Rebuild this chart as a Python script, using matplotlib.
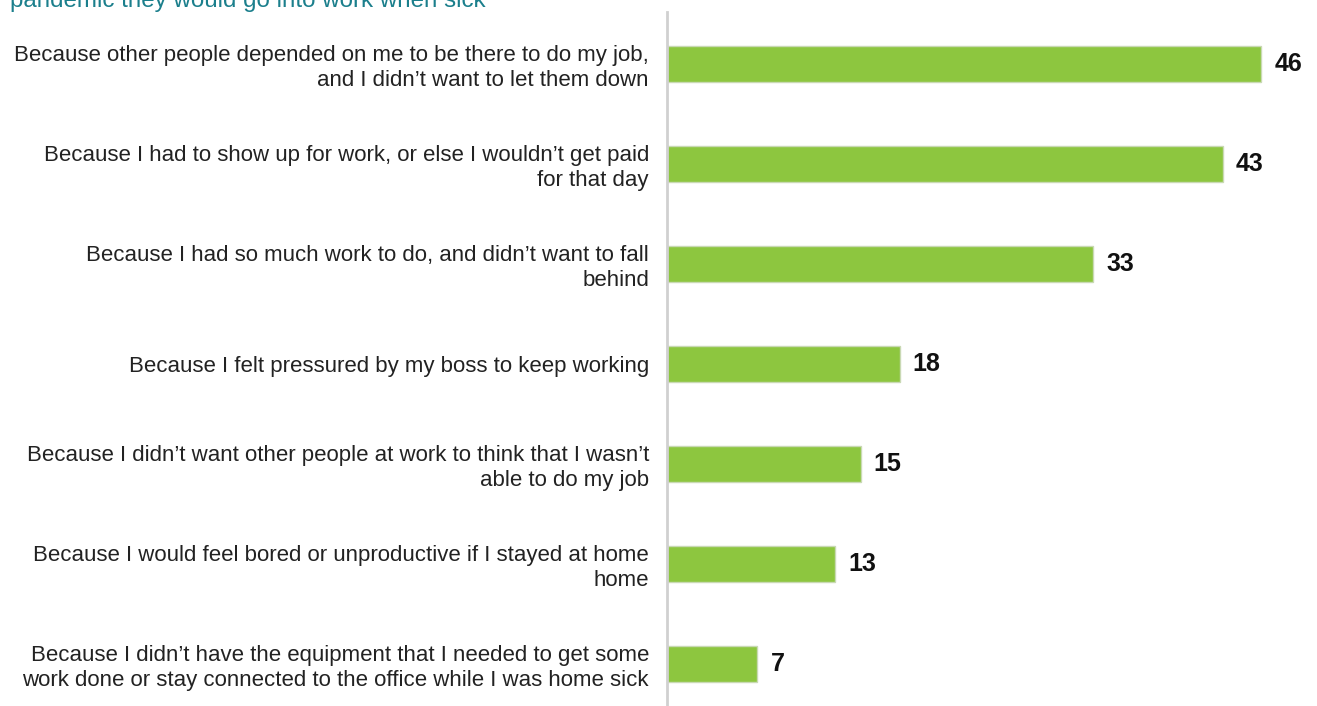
import matplotlib.pyplot as plt

# survey answers, top to bottom
reasons = [
    "Because other people depended on me to be there to do my job,\nand I didn\u2019t want to let them down",
    "Because I had to show up for work, or else I wouldn\u2019t get paid\nfor that day",
    "Because I had so much work to do, and didn\u2019t want to fall\nbehind",
    "Because I felt pressured by my boss to keep working",
    "Because I didn\u2019t want other people at work to think that I wasn\u2019t\nable to do my job",
    "Because I would feel bored or unproductive if I stayed at home\nhome",
    "Because I didn\u2019t have the equipment that I needed to get some\nwork done or stay connected to the office while I was home sick",
]
percent = [46, 43, 33, 18, 15, 13, 7]
title = "pandemic they would go into work when sick"

plt.rcParams['font.family'] = ['Liberation Sans', 'DejaVu Sans']

fig = plt.figure(figsize=(13.17, 7.06), dpi=100)
ax = fig.add_axes([667/1317, 0, 650/1317, 694/706])

pos = list(range(len(reasons)))
ax.barh(pos, percent, height=0.36, color='#8dc63f', edgecolor='#c9d9b4', linewidth=1)

for p, v in zip(pos, percent):
    ax.text(v + 1.0, p, str(v), va='center', ha='left', fontsize=18,
            fontweight='bold', color='#111111')

ax.set_xlim(0, 50.3)
ax.set_ylim(6.42, -0.52)
ax.set_yticks(pos)
ax.set_yticklabels(reasons, fontsize=16, linespacing=1.2, color='#222222')
ax.tick_params(axis='y', length=0, pad=13)
ax.set_xticks([])
for s in ['top', 'right', 'bottom']:
    ax.spines[s].set_visible(False)
ax.spines['left'].set_color('#d0d0d0')
ax.spines['left'].set_linewidth(2)

fig.text(10/1317, 1 - 6.5/706, title, fontsize=17.4, color='#1b7f8c',
         ha='left', va='baseline')

plt.savefig("out.png", dpi=100)
